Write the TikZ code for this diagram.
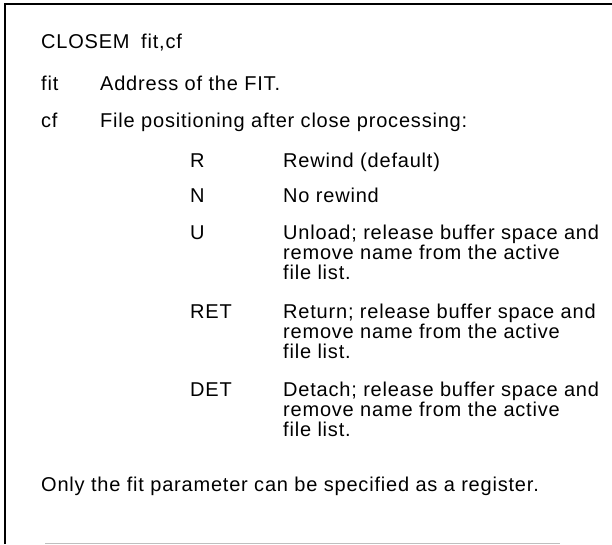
\documentclass[tikz,border=0pt]{standalone}
\usepackage{fontspec}
\setmainfont{Liberation Sans}

\begin{document}
\begin{tikzpicture}[x=1pt, y=-1pt,
    txt/.style={anchor=base west, inner sep=0pt, align=left,
      font=\fontsize{20}{20}\selectfont\addfontfeature{LetterSpace=4}},
    frame/.style={line width=2pt}]
    \useasboundingbox (0,0) rectangle (612,544);

    % Frame
    \draw[frame] (5,544) -- (5,4) -- (612,4);
    \draw[gray!50, line width=0.6pt] (45,543) -- (560,543);

    % Macro call
    \node[txt] (call) at (41,48) {CLOSEM};
    \node[txt] (args) at (141,48) {fit,cf};

    % Parameters
    \node[txt] (fit) at (41,90) {fit};
    \node[txt] (fitdesc) at (100,90) {Address of the FIT.};
    \node[txt] (cf) at (41,127) {cf};
    \node[txt] (cfdesc) at (100,127) {File positioning after close processing:};

    % Options for cf (multi-line texts sit on their last baseline)
    \node[txt] (optR) at (190,167) {R};
    \node[txt] (descR) at (283,167) {Rewind (default)};
    \node[txt] (optN) at (190,202) {N};
    \node[txt] (descN) at (283,202) {No rewind};
    \node[txt] (optU) at (190,239) {U};
    \node[txt] (descU) at (283,279) {Unload; release buffer space and\\remove name from the active\\file list.};
    \node[txt] (optRET) at (190,318) {RET};
    \node[txt] (descRET) at (283,358) {Return; release buffer space and\\remove name from the active\\file list.};
    \node[txt] (optDET) at (190,396) {DET};
    \node[txt] (descDET) at (283,436) {Detach; release buffer space and\\remove name from the active\\file list.};

    % Note
    \node[txt] (note) at (41,491) {Only the fit parameter can be specified as a register.};
\end{tikzpicture}
\end{document}
